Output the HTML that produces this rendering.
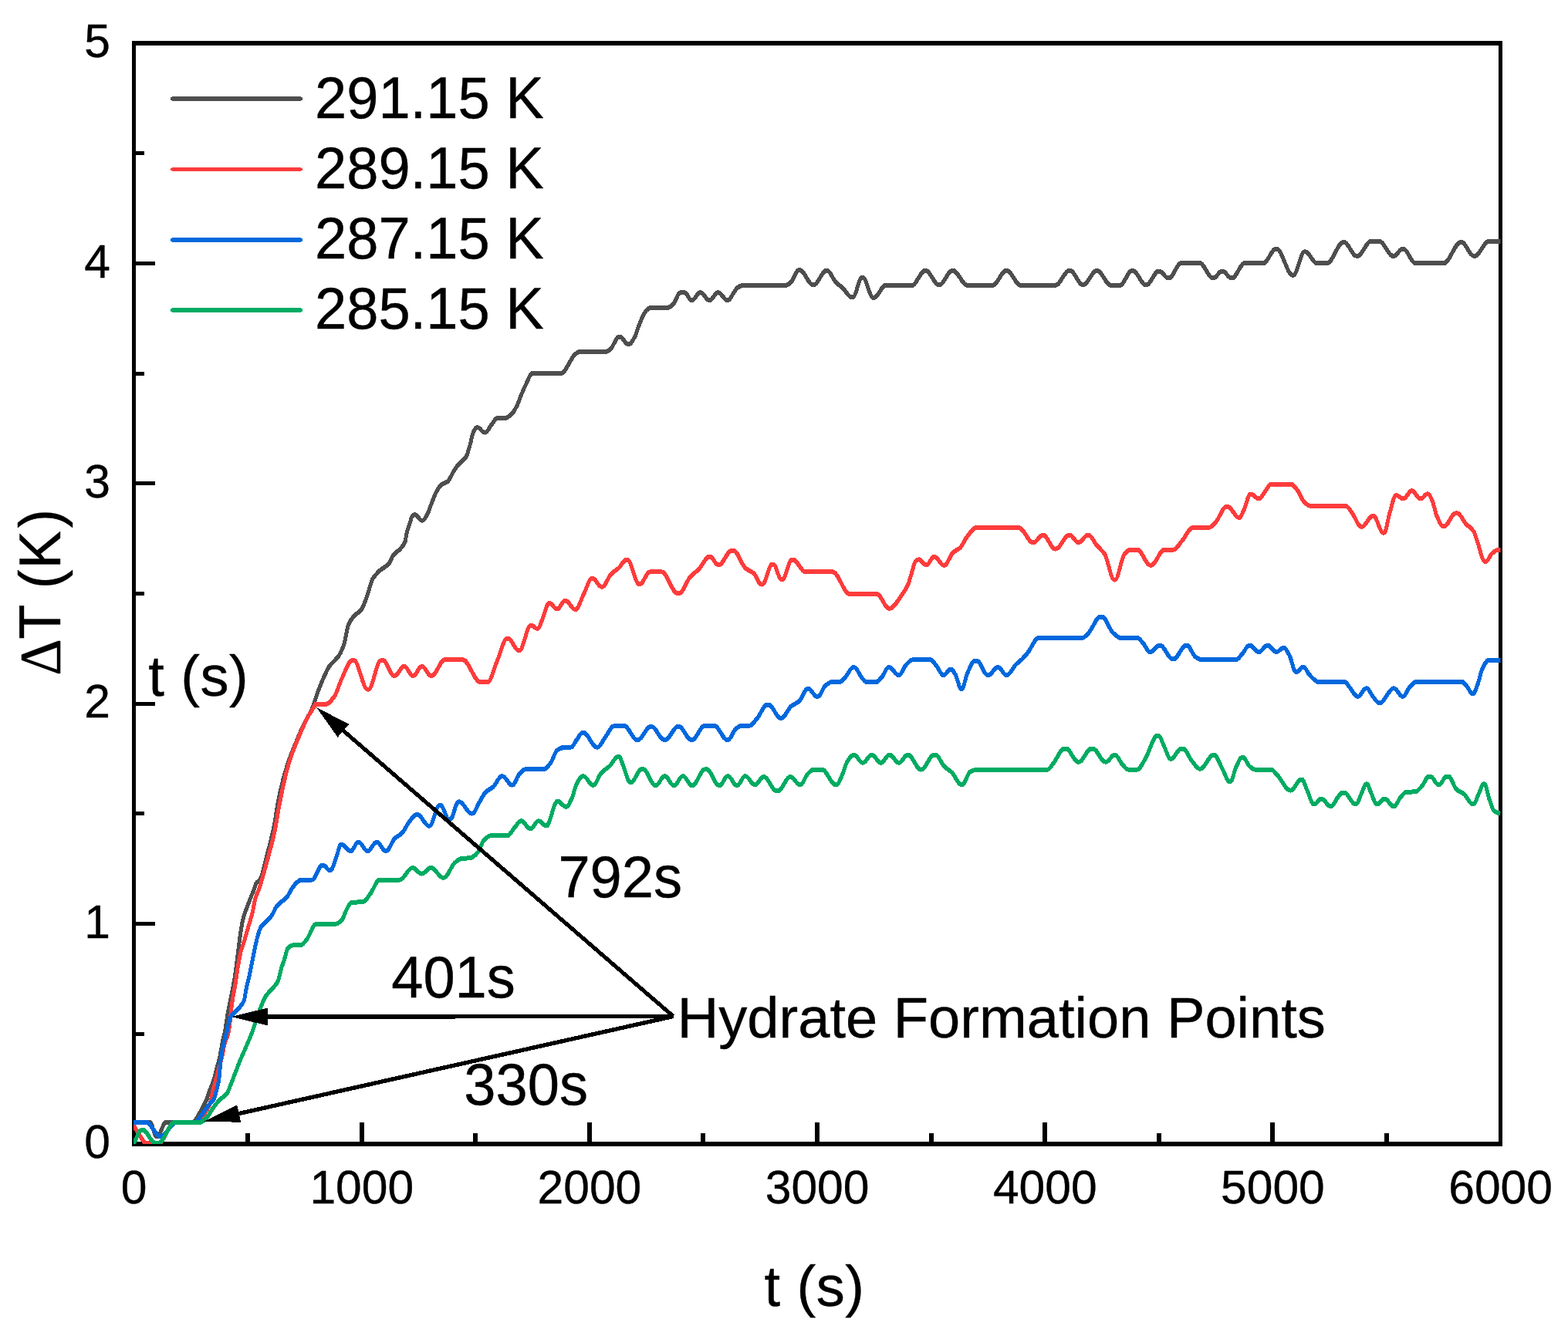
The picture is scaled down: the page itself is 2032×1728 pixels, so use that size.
<!DOCTYPE html>
<html lang="en"><head><meta charset="utf-8"><title>Temperature rise during hydrate formation</title>
<style>html,body{margin:0;padding:0;background:#fff}body{width:2032px;height:1728px;overflow:hidden}svg{display:block}text{font-family:"Liberation Sans", Arial, Helvetica, sans-serif;fill:#000;stroke:#000;stroke-width:0.4px;stroke-linejoin:round}.tk{font-size:60.6px}.lb{font-size:74.1px}.sy{font-family:"Liberation Serif","Times New Roman",serif}.cv{fill:none;stroke-linejoin:round;stroke-linecap:butt}</style></head><body>
<svg width="2032" height="1728" viewBox="0 0 2032 1728">
<rect width="2032" height="1728" fill="#fff"/>
<defs><clipPath id="pc"><rect x="173" y="56" width="1771.5" height="1427"/></clipPath></defs>
<g fill="#000" shape-rendering="crispEdges">
<rect x="171" y="53" width="5" height="1433"/>
<rect x="1942" y="53" width="5" height="1433"/>
<rect x="171" y="53" width="1776" height="6"/>
<rect x="171" y="1480" width="1776" height="6"/>
<rect x="318" y="1469" width="6" height="14"/>
<rect x="466" y="1455" width="6" height="28"/>
<rect x="613" y="1469" width="6" height="14"/>
<rect x="761" y="1455" width="6" height="28"/>
<rect x="908" y="1469" width="6" height="14"/>
<rect x="1056" y="1455" width="6" height="28"/>
<rect x="1204" y="1469" width="6" height="14"/>
<rect x="1351" y="1455" width="6" height="28"/>
<rect x="1499" y="1469" width="6" height="14"/>
<rect x="1646" y="1455" width="6" height="28"/>
<rect x="1794" y="1469" width="6" height="14"/>
<rect x="173" y="1338" width="14" height="5"/>
<rect x="173" y="1195" width="28" height="5"/>
<rect x="173" y="1052" width="14" height="5"/>
<rect x="173" y="910" width="28" height="5"/>
<rect x="173" y="767" width="14" height="5"/>
<rect x="173" y="624" width="28" height="5"/>
<rect x="173" y="482" width="14" height="5"/>
<rect x="173" y="339" width="28" height="5"/>
<rect x="173" y="196" width="14" height="5"/>
</g>
<g clip-path="url(#pc)"><g transform="scale(0.83333 1)" shape-rendering="crispEdges">
<path class="cv" d="M207.6 1454.7C216.2 1454.7 224.8 1454.7 233.4 1454.7C236.6 1454.7 239.8 1472.8 243.0 1472.8C243.6 1472.8 244.1 1472.8 244.7 1472.8C249.2 1472.8 253.7 1454.7 258.2 1454.7C272.2 1454.7 286.1 1454.7 300.0 1454.7C303.3 1454.7 306.6 1448.1 309.8 1443.8C312.0 1441.0 314.1 1437.5 316.2 1434.1C318.0 1431.2 319.8 1428.8 321.6 1425.0C322.8 1422.5 324.0 1418.0 325.2 1415.2C326.7 1411.7 328.2 1409.6 329.8 1406.2C331.0 1403.5 332.2 1400.6 333.4 1397.2C334.6 1393.8 335.8 1388.9 337.0 1385.1C338.5 1380.3 340.0 1377.3 341.5 1371.6C342.4 1368.3 343.3 1362.7 344.2 1358.8C345.1 1354.7 346.0 1350.9 346.9 1347.5C347.6 1344.8 348.4 1342.9 349.1 1340.0C350.9 1332.8 352.7 1320.6 354.5 1312.2C356.5 1303.2 358.5 1296.3 360.4 1287.6C362.2 1279.9 364.0 1272.6 365.8 1263.0C367.0 1256.1 368.3 1246.9 369.6 1238.4C370.7 1231.3 371.8 1222.5 372.9 1216.3C374.5 1206.6 376.2 1197.3 377.9 1191.7C379.8 1185.1 381.8 1181.5 383.8 1176.9C385.3 1173.4 386.7 1170.2 388.2 1167.1C390.2 1162.8 392.1 1159.0 394.1 1154.8C395.6 1151.6 397.1 1146.8 398.5 1144.9C400.5 1142.5 402.4 1142.4 404.3 1140.1C408.1 1135.3 412.0 1118.8 415.8 1106.7C419.4 1095.5 422.9 1084.6 426.4 1069.8C428.4 1061.6 430.3 1048.8 432.3 1040.3C434.2 1031.9 436.1 1024.7 438.0 1018.1C439.8 1011.5 441.7 1005.7 443.6 1000.4C446.2 993.3 448.7 987.0 451.2 981.2C454.3 974.2 457.4 968.2 460.5 962.0C463.5 955.9 466.5 949.6 469.5 944.3C472.6 938.9 475.6 934.6 478.7 929.5C480.8 926.1 482.8 923.2 484.9 919.2C488.4 912.5 491.9 902.1 495.4 894.6C498.1 888.6 500.9 882.9 503.6 877.8C506.4 872.8 509.1 867.5 511.9 864.1C517.0 857.7 522.1 856.4 527.2 849.7C530.0 846.1 532.8 840.8 535.5 833.5C537.5 828.4 539.4 815.2 541.4 810.9C543.8 805.8 546.1 803.0 548.5 800.5C553.2 795.4 558.0 794.8 562.7 789.3C565.4 786.0 568.2 778.8 570.9 772.5C573.7 766.2 576.5 754.9 579.2 750.9C583.1 745.2 587.1 742.5 591.0 739.4C595.7 735.8 600.4 735.0 605.1 730.3C607.2 728.3 609.3 722.2 611.4 720.0C614.9 716.1 618.4 715.2 622.0 711.9C624.6 709.4 627.3 707.8 630.0 702.3C630.8 700.4 631.7 693.4 632.6 690.5C634.1 685.6 635.6 683.2 637.0 679.4C638.2 676.3 639.4 671.1 640.6 669.8C641.8 668.5 643.0 667.3 644.2 667.3C644.7 667.3 645.3 667.3 645.9 667.3C649.1 667.3 652.4 674.5 655.7 674.5C656.2 674.5 656.8 674.5 657.4 674.5C659.7 674.5 662.1 670.3 664.5 666.8C666.6 663.8 668.6 657.9 670.7 653.5C673.4 648.0 676.0 641.1 678.7 637.3C681.3 633.5 684.0 630.2 686.6 628.4C689.9 626.3 693.1 626.3 696.4 624.0C699.6 621.8 702.9 614.1 706.1 610.0C708.5 607.0 710.9 604.2 713.2 601.9C717.1 598.1 720.9 597.3 724.7 592.3C726.8 589.6 728.9 582.6 730.9 576.8C732.7 571.8 734.5 562.5 736.3 559.8C738.0 557.0 739.8 554.3 741.6 554.3C742.2 554.3 742.7 554.3 743.3 554.3C746.6 554.3 749.9 560.5 753.1 560.5C753.7 560.5 754.2 560.5 754.8 560.5C758.1 560.5 761.3 553.5 764.6 550.2C767.6 547.2 770.5 541.8 773.5 541.8C777.6 541.8 781.7 541.8 785.9 541.8C789.1 541.8 792.4 539.3 795.6 536.9C798.3 535.0 800.9 530.8 803.6 526.6C805.9 522.8 808.3 516.5 810.7 511.8C812.7 507.7 814.8 503.4 816.9 500.0C820.6 493.9 824.3 484.1 828.0 484.1C842.8 484.1 857.6 484.1 872.4 484.1C879.7 484.1 886.9 464.4 894.2 459.5C896.6 457.9 898.9 455.8 901.3 455.8C914.9 455.8 928.5 455.8 942.0 455.8C944.4 455.8 946.8 454.3 949.1 452.9C953.6 450.2 958.0 436.6 962.5 436.6C963.0 436.6 963.6 436.6 964.1 436.6C968.3 436.6 972.5 446.2 976.6 446.2C977.2 446.2 977.7 446.2 978.3 446.2C981.3 446.2 984.2 441.0 987.2 436.6C989.6 433.1 991.9 425.3 994.3 420.4C996.7 415.5 999.0 410.4 1001.4 407.1C1002.9 405.0 1004.3 402.9 1005.8 401.9C1008.2 400.3 1010.5 398.7 1012.9 398.7C1021.5 398.7 1030.0 398.7 1038.6 398.7C1041.2 398.7 1043.9 396.5 1046.6 394.6C1050.4 391.8 1054.2 379.4 1058.1 379.4C1060.4 379.4 1062.8 379.4 1065.2 379.4C1068.4 379.4 1071.7 389.1 1075.0 389.1C1075.5 389.1 1076.1 389.1 1076.6 389.1C1080.5 389.1 1084.4 379.4 1088.2 379.4C1088.8 379.4 1089.4 379.4 1089.9 379.4C1094.1 379.4 1098.3 389.1 1102.4 389.1C1103.0 389.1 1103.5 389.1 1104.1 389.1C1108.0 389.1 1111.8 379.4 1115.7 379.4C1116.3 379.4 1116.8 379.4 1117.4 379.4C1121.8 379.4 1126.3 389.1 1130.8 389.1C1131.3 389.1 1131.9 389.1 1132.4 389.1C1135.4 389.1 1138.4 382.3 1141.3 379.1C1143.4 376.8 1145.5 373.4 1147.5 372.4C1150.2 371.1 1152.9 369.9 1155.5 369.9C1177.7 369.9 1199.8 369.9 1222.0 369.9C1224.6 369.9 1227.3 367.7 1229.9 365.8C1234.1 362.8 1238.2 350.3 1242.4 350.3C1242.9 350.3 1243.5 350.3 1244.1 350.3C1250.7 350.3 1257.4 369.1 1264.1 369.1C1264.7 369.1 1265.2 369.1 1265.8 369.1C1272.1 369.1 1278.5 350.9 1284.8 350.9C1285.3 350.9 1285.9 350.9 1286.5 350.9C1291.1 350.9 1295.8 362.9 1300.4 366.6C1303.3 369.0 1306.3 370.1 1309.3 372.3C1314.4 376.0 1319.5 385.3 1324.7 385.3C1325.2 385.3 1325.8 385.3 1326.3 385.3C1331.0 385.3 1335.6 360.0 1340.3 360.0C1340.9 360.0 1341.4 360.0 1342.0 360.0C1347.2 360.0 1352.5 385.8 1357.7 385.8C1358.3 385.8 1358.8 385.8 1359.4 385.8C1365.3 385.8 1371.2 369.8 1377.2 369.8C1390.9 369.8 1404.7 369.8 1418.5 369.8C1425.1 369.8 1431.7 350.9 1438.3 350.9C1438.9 350.9 1439.5 350.9 1440.0 350.9C1446.5 350.9 1453.1 369.1 1459.6 369.1C1460.2 369.1 1460.7 369.1 1461.3 369.1C1467.7 369.1 1474.1 350.9 1480.6 350.9C1481.1 350.9 1481.7 350.9 1482.2 350.9C1489.5 350.9 1496.8 369.8 1504.1 369.8C1517.4 369.8 1530.7 369.8 1544.0 369.8C1550.8 369.8 1557.6 350.9 1564.4 350.9C1565.0 350.9 1565.5 350.9 1566.1 350.9C1573.0 350.9 1579.9 369.8 1586.8 369.8C1605.0 369.8 1623.2 369.8 1641.4 369.8C1648.5 369.8 1655.6 350.9 1662.7 350.9C1663.3 350.9 1663.9 350.9 1664.4 350.9C1670.8 350.9 1677.1 369.1 1683.4 369.1C1684.0 369.1 1684.5 369.1 1685.1 369.1C1691.7 369.1 1698.3 350.9 1705.0 350.9C1705.5 350.9 1706.1 350.9 1706.6 350.9C1713.5 350.9 1720.3 369.8 1727.1 369.8C1732.0 369.8 1736.9 369.8 1741.8 369.8C1747.9 369.8 1754.1 350.9 1760.2 350.9C1760.7 350.9 1761.3 350.9 1761.9 350.9C1768.4 350.9 1774.9 369.1 1781.4 369.1C1782.0 369.1 1782.6 369.1 1783.1 369.1C1789.3 369.1 1795.5 351.5 1801.7 351.5C1802.3 351.5 1802.9 351.5 1803.4 351.5C1807.8 351.5 1812.1 360.4 1816.5 360.4C1817.1 360.4 1817.6 360.4 1818.2 360.4C1824.3 360.4 1830.4 341.2 1836.5 341.2C1846.4 341.2 1856.2 341.2 1866.1 341.2C1872.7 341.2 1879.3 360.4 1885.9 360.4C1886.4 360.4 1887.0 360.4 1887.6 360.4C1891.6 360.4 1895.7 351.5 1899.8 351.5C1900.3 351.5 1900.9 351.5 1901.4 351.5C1905.8 351.5 1910.2 360.4 1914.5 360.4C1915.1 360.4 1915.7 360.4 1916.2 360.4C1922.6 360.4 1929.0 341.2 1935.4 341.2C1945.3 341.2 1955.1 341.2 1965.0 341.2C1971.3 341.2 1977.6 322.7 1983.9 322.7C1984.5 322.7 1985.0 322.7 1985.6 322.7C1993.7 322.7 2001.8 356.7 2009.9 356.7C2010.5 356.7 2011.0 356.7 2011.6 356.7C2017.2 356.7 2022.9 326.4 2028.5 326.4C2029.1 326.4 2029.6 326.4 2030.2 326.4C2036.0 326.4 2041.8 341.2 2047.7 341.2C2053.1 341.2 2058.5 341.2 2063.9 341.2C2072.2 341.2 2080.5 314.1 2088.7 314.1C2089.3 314.1 2089.9 314.1 2090.4 314.1C2096.8 314.1 2103.1 331.9 2109.4 331.9C2110.0 331.9 2110.5 331.9 2111.1 331.9C2118.0 331.9 2124.9 312.9 2131.8 312.9C2136.2 312.9 2140.7 312.9 2145.1 312.9C2152.2 312.9 2159.3 331.9 2166.4 331.9C2167.0 331.9 2167.5 331.9 2168.1 331.9C2172.2 331.9 2176.4 322.7 2180.6 322.7C2181.1 322.7 2181.7 322.7 2182.3 322.7C2188.6 322.7 2194.9 341.2 2201.2 341.2C2216.0 341.2 2230.7 341.2 2245.5 341.2C2254.1 341.2 2262.6 314.1 2271.2 314.1C2271.8 314.1 2272.3 314.1 2272.9 314.1C2279.2 314.1 2285.6 331.9 2291.9 331.9C2292.5 331.9 2293.0 331.9 2293.6 331.9C2300.7 331.9 2307.8 312.9 2314.9 312.9C2321.1 312.9 2327.3 312.9 2333.5 312.9" stroke="#4e4e4e" stroke-width="6"/>
<path class="cv" d="M207.6 1458.5C210.8 1463.0 214.0 1468.3 217.2 1472.0C220.8 1476.1 224.4 1482.3 228.0 1482.3C234.2 1482.3 240.4 1482.3 246.6 1482.3C254.9 1482.3 263.2 1454.7 271.6 1454.7C283.4 1454.7 295.3 1454.7 307.2 1454.7C309.6 1454.7 312.1 1451.0 314.5 1448.4C316.4 1446.4 318.2 1443.3 320.0 1440.8C321.8 1438.3 323.6 1436.8 325.4 1433.3C326.6 1431.0 327.8 1427.0 329.0 1422.8C329.6 1420.7 330.2 1417.4 330.8 1415.2C332.0 1410.8 333.2 1407.7 334.4 1404.0C335.6 1400.3 336.8 1396.5 338.0 1392.7C339.2 1388.9 340.4 1385.2 341.6 1381.4C342.8 1377.6 344.0 1374.4 345.2 1370.1C346.4 1365.8 347.6 1359.0 348.8 1355.0C351.1 1347.4 353.4 1345.9 355.7 1336.9C357.4 1330.1 359.2 1309.8 360.9 1299.9C362.6 1290.1 364.3 1284.2 366.1 1275.3C367.5 1267.7 369.0 1257.8 370.5 1250.7C372.0 1243.7 373.4 1236.9 374.9 1232.3C376.4 1227.7 377.9 1225.2 379.3 1221.2C381.3 1215.9 383.3 1209.6 385.3 1204.0C387.7 1196.9 390.2 1191.5 392.6 1183.1C394.1 1178.0 395.6 1168.8 397.1 1164.6C399.0 1159.1 401.0 1157.0 403.0 1152.3C404.4 1148.8 405.9 1144.2 407.4 1140.0C411.1 1129.4 414.8 1118.4 418.5 1106.7C421.4 1097.3 424.4 1088.9 427.3 1077.2C429.4 1069.0 431.5 1056.8 433.5 1047.6C435.9 1037.1 438.2 1026.9 440.6 1018.1C443.6 1007.1 446.5 996.6 449.5 988.6C453.9 976.6 458.3 968.0 462.8 959.1C468.1 948.3 473.4 937.9 478.7 929.5C482.2 924.0 485.8 920.1 489.3 914.8C489.8 914.1 490.2 912.7 490.6 912.7C496.1 912.7 501.7 912.7 507.2 912.7C511.5 912.7 515.8 907.4 520.2 902.4C524.1 898.0 528.0 885.6 532.0 878.8C537.1 870.1 542.2 856.2 547.3 856.2C548.4 856.2 549.5 856.2 550.7 856.2C557.5 856.2 564.4 893.6 571.3 893.6C571.8 893.6 572.4 893.6 573.0 893.6C579.4 893.6 585.9 856.2 592.4 856.2C593.5 856.2 594.7 856.2 595.8 856.2C601.4 856.2 607.0 875.9 612.6 875.9C613.2 875.9 613.7 875.9 614.3 875.9C618.7 875.9 623.1 864.1 627.5 864.1C628.1 864.1 628.6 864.1 629.2 864.1C633.4 864.1 637.5 875.9 641.7 875.9C642.2 875.9 642.8 875.9 643.4 875.9C647.3 875.9 651.2 864.1 655.1 864.1C655.7 864.1 656.3 864.1 656.8 864.1C661.2 864.1 665.6 875.9 670.0 875.9C670.6 875.9 671.1 875.9 671.7 875.9C678.3 875.9 684.8 855.2 691.4 855.2C700.9 855.2 710.3 855.2 719.8 855.2C728.7 855.2 737.6 883.9 746.5 883.9C750.6 883.9 754.6 883.9 758.7 883.9C763.5 883.9 768.2 866.1 772.9 857.2C778.1 847.3 783.4 827.6 788.6 827.6C789.2 827.6 789.7 827.6 790.3 827.6C795.6 827.6 801.0 843.0 806.3 843.0C806.9 843.0 807.4 843.0 808.0 843.0C813.7 843.0 819.5 810.9 825.2 810.9C825.8 810.9 826.3 810.9 826.9 810.9C829.5 810.9 832.1 814.8 834.7 814.8C835.2 814.8 835.8 814.8 836.4 814.8C838.8 814.8 841.3 806.7 843.8 802.0C847.0 796.0 850.3 782.0 853.6 782.0C854.1 782.0 854.7 782.0 855.2 782.0C858.6 782.0 862.0 789.3 865.4 789.3C865.9 789.3 866.5 789.3 867.1 789.3C870.8 789.3 874.6 778.8 878.4 778.8C878.9 778.8 879.5 778.8 880.1 778.8C884.6 778.8 889.2 789.8 893.7 789.8C894.3 789.8 894.8 789.8 895.4 789.8C899.5 789.8 903.5 777.0 907.6 770.6C911.8 763.7 916.1 749.9 920.4 749.9C921.0 749.9 921.5 749.9 922.1 749.9C926.4 749.9 930.7 760.7 935.1 760.7C935.6 760.7 936.2 760.7 936.7 760.7C941.2 760.7 945.7 748.2 950.2 744.3C954.1 741.0 958.0 739.5 962.0 736.5C966.0 733.4 970.1 725.6 974.1 725.6C974.7 725.6 975.3 725.6 975.8 725.6C981.8 725.6 987.8 757.1 993.7 757.1C994.3 757.1 994.9 757.1 995.4 757.1C1000.4 757.1 1005.4 741.4 1010.4 741.4C1016.7 741.4 1023.0 741.4 1029.3 741.4C1037.3 741.4 1045.2 768.9 1053.1 768.9C1054.3 768.9 1055.4 768.9 1056.5 768.9C1062.0 768.9 1067.5 753.5 1073.0 748.3C1077.7 743.8 1082.5 741.5 1087.2 737.4C1092.4 732.9 1097.6 721.7 1102.9 721.7C1103.4 721.7 1104.0 721.7 1104.6 721.7C1108.6 721.7 1112.6 732.1 1116.6 732.1C1117.1 732.1 1117.7 732.1 1118.3 732.1C1124.7 732.1 1131.1 713.8 1137.5 713.8C1138.6 713.8 1139.7 713.8 1140.8 713.8C1147.0 713.8 1153.1 732.0 1159.2 736.5C1163.6 739.6 1167.9 740.1 1172.2 743.3C1176.1 746.2 1180.0 757.5 1183.9 757.5C1184.5 757.5 1185.0 757.5 1185.6 757.5C1190.7 757.5 1195.8 731.5 1200.9 731.5C1201.5 731.5 1202.0 731.5 1202.6 731.5C1206.8 731.5 1210.9 751.2 1215.1 751.2C1215.6 751.2 1216.2 751.2 1216.8 751.2C1221.7 751.2 1226.7 725.6 1231.6 725.6C1232.2 725.6 1232.7 725.6 1233.3 725.6C1239.7 725.6 1246.1 741.4 1252.5 741.4C1266.7 741.4 1280.9 741.4 1295.1 741.4C1303.7 741.4 1312.4 769.9 1321.0 769.9C1335.2 769.9 1349.4 769.9 1363.6 769.9C1369.8 769.9 1376.1 788.6 1382.3 788.6C1382.9 788.6 1383.4 788.6 1384.0 788.6C1389.8 788.6 1395.6 779.1 1401.4 772.6C1405.0 768.6 1408.5 764.5 1412.1 757.8C1414.0 754.1 1416.0 747.1 1418.0 742.0C1420.0 737.0 1421.9 728.7 1423.9 727.3C1425.5 726.2 1427.0 725.3 1428.6 725.3C1432.3 725.3 1435.9 732.2 1439.6 732.2C1440.1 732.2 1440.7 732.2 1441.3 732.2C1444.9 732.2 1448.5 722.0 1452.1 722.0C1452.7 722.0 1453.2 722.0 1453.8 722.0C1458.3 722.0 1462.7 732.6 1467.2 732.6C1467.8 732.6 1468.3 732.6 1468.9 732.6C1473.2 732.6 1477.5 719.9 1481.8 716.5C1485.7 713.3 1489.6 712.8 1493.6 709.6C1496.7 707.0 1499.9 700.1 1503.0 696.8C1508.1 691.4 1513.3 684.0 1518.4 684.0C1540.4 684.0 1562.5 684.0 1584.5 684.0C1591.7 684.0 1598.9 703.1 1606.1 703.1C1606.7 703.1 1607.2 703.1 1607.8 703.1C1612.2 703.1 1616.6 693.8 1621.0 693.8C1621.6 693.8 1622.1 693.8 1622.7 693.8C1628.6 693.8 1634.5 711.5 1640.4 711.5C1640.9 711.5 1641.5 711.5 1642.1 711.5C1648.8 711.5 1655.6 693.8 1662.3 693.8C1662.9 693.8 1663.5 693.8 1664.0 693.8C1668.2 693.8 1672.3 703.1 1676.5 703.1C1677.1 703.1 1677.6 703.1 1678.2 703.1C1682.5 703.1 1686.8 693.8 1691.2 693.8C1691.7 693.8 1692.3 693.8 1692.8 693.8C1697.3 693.8 1701.7 703.3 1706.2 707.6C1710.1 711.4 1714.0 713.4 1718.0 718.4C1722.8 724.7 1727.7 751.5 1732.5 751.5C1733.1 751.5 1733.6 751.5 1734.2 751.5C1739.0 751.5 1743.9 723.0 1748.7 718.4C1751.8 715.5 1755.0 712.5 1758.1 712.5C1761.7 712.5 1765.2 712.5 1768.8 712.5C1775.4 712.5 1782.1 732.6 1788.7 732.6C1789.3 732.6 1789.8 732.6 1790.4 732.6C1797.0 732.6 1803.5 713.2 1810.1 712.9C1815.2 712.7 1820.3 712.8 1825.5 712.5C1829.8 712.3 1834.1 704.8 1838.5 700.7C1844.0 695.4 1849.5 684.0 1855.0 684.0C1863.4 683.9 1871.7 683.9 1880.1 683.9C1883.6 683.8 1887.2 679.8 1890.7 676.8C1896.1 672.2 1901.4 657.1 1906.7 657.1C1907.9 657.1 1909.0 657.1 1910.1 657.1C1915.4 657.1 1920.7 670.9 1926.0 670.9C1926.6 670.9 1927.1 670.9 1927.7 670.9C1929.9 670.9 1932.2 664.8 1934.4 661.0C1937.7 655.5 1940.9 640.9 1944.2 640.9C1944.8 640.9 1945.3 640.9 1945.9 640.9C1949.7 640.9 1953.4 646.3 1957.2 646.3C1957.8 646.3 1958.3 646.3 1958.9 646.3C1961.3 646.3 1963.8 641.0 1966.3 638.4C1969.8 634.7 1973.4 627.6 1976.9 627.6C1987.2 627.6 1997.4 627.6 2007.6 627.6C2011.2 627.6 2014.7 632.6 2018.3 636.4C2021.4 639.8 2024.6 647.6 2027.7 650.2C2030.9 652.8 2034.0 655.7 2037.2 655.7C2055.7 655.7 2074.2 655.7 2092.7 655.7C2096.2 655.7 2099.8 662.1 2103.3 665.9C2107.8 670.8 2112.2 682.7 2116.6 682.7C2117.2 682.7 2117.8 682.7 2118.3 682.7C2123.7 682.7 2129.0 668.9 2134.4 668.9C2134.9 668.9 2135.5 668.9 2136.0 668.9C2141.0 668.9 2145.9 690.6 2150.9 690.6C2151.5 690.6 2152.0 690.6 2152.6 690.6C2155.4 690.6 2158.3 672.6 2161.2 665.0C2164.3 656.6 2167.4 642.3 2170.5 642.3C2171.1 642.3 2171.6 642.3 2172.2 642.3C2175.3 642.3 2178.5 646.3 2181.6 646.3C2182.2 646.3 2182.7 646.3 2183.3 646.3C2187.1 646.3 2190.8 636.4 2194.6 636.4C2195.2 636.4 2195.7 636.4 2196.3 636.4C2200.3 636.4 2204.3 646.3 2208.3 646.3C2208.9 646.3 2209.4 646.3 2210.0 646.3C2213.1 646.3 2216.3 640.4 2219.4 640.4C2220.0 640.4 2220.5 640.4 2221.1 640.4C2223.2 640.4 2225.2 645.3 2227.3 649.2C2229.7 653.6 2232.0 664.5 2234.4 668.9C2237.7 675.0 2240.9 682.3 2244.2 682.3C2244.8 682.3 2245.3 682.3 2245.9 682.3C2251.7 682.3 2257.6 665.4 2263.4 665.4C2264.6 665.4 2265.7 665.4 2266.8 665.4C2271.0 665.4 2275.1 674.8 2279.3 678.7C2283.6 682.8 2288.0 683.8 2292.3 689.6C2294.3 692.2 2296.2 699.7 2298.2 704.3C2301.8 712.9 2305.5 728.0 2309.2 728.0C2309.7 728.0 2310.3 728.0 2310.8 728.0C2314.1 728.0 2317.4 719.3 2320.6 717.1C2323.4 715.2 2326.1 713.2 2328.9 713.0C2330.5 712.9 2332.0 712.9 2333.6 712.8" stroke="#fd3c3c" stroke-width="6"/>
<path class="cv" d="M207.6 1454.7C214.2 1454.7 220.8 1454.7 227.4 1454.7C234.6 1454.7 241.9 1473.0 249.1 1473.0C249.7 1473.0 250.2 1473.0 250.8 1473.0C258.5 1473.0 266.2 1454.7 274.0 1454.7C283.8 1454.7 293.7 1454.7 303.6 1454.7C306.0 1454.7 308.5 1450.8 310.9 1448.4C313.3 1446.0 315.7 1442.8 318.1 1440.1C320.6 1437.3 323.0 1434.3 325.4 1431.8C327.8 1429.3 330.2 1428.6 332.6 1425.0C333.8 1423.2 335.0 1418.9 336.2 1415.2C337.6 1411.0 339.0 1407.5 340.3 1400.2C340.9 1397.0 341.5 1390.1 342.1 1385.1C342.7 1380.1 343.3 1373.6 343.9 1370.1C345.1 1363.1 346.3 1359.5 347.5 1355.0C349.0 1349.4 350.5 1345.0 352.0 1340.0C354.2 1332.8 356.5 1321.6 358.7 1318.4C360.6 1315.6 362.6 1314.7 364.6 1312.9C367.5 1310.1 370.5 1308.0 373.4 1304.9C375.4 1302.8 377.4 1301.5 379.3 1297.5C380.6 1295.0 381.8 1286.3 383.0 1281.5C384.8 1274.7 386.5 1269.7 388.2 1263.0C389.7 1257.3 391.2 1250.7 392.6 1244.6C394.1 1238.4 395.6 1231.6 397.1 1226.1C398.5 1220.7 400.0 1215.3 401.5 1211.4C403.0 1207.4 404.4 1203.4 405.9 1201.5C408.4 1198.4 410.8 1197.5 413.3 1195.4C416.7 1192.3 420.2 1189.8 423.6 1185.5C425.6 1183.1 427.6 1177.9 429.5 1175.7C432.0 1172.9 434.5 1171.4 436.9 1169.5C439.9 1167.3 442.8 1166.1 445.8 1163.4C448.7 1160.6 451.7 1154.6 454.6 1151.1C456.6 1148.8 458.6 1146.4 460.5 1144.9C463.0 1143.1 465.5 1140.8 467.9 1140.7C473.8 1140.6 479.7 1140.7 485.6 1140.5C490.7 1140.3 495.8 1121.5 500.9 1121.5C501.5 1121.5 502.0 1121.5 502.6 1121.5C505.9 1121.5 509.1 1128.1 512.4 1128.1C513.0 1128.1 513.5 1128.1 514.1 1128.1C517.1 1128.1 520.0 1117.3 523.0 1111.1C525.4 1106.2 527.7 1094.9 530.1 1094.9C530.7 1094.9 531.2 1094.9 531.8 1094.9C536.0 1094.9 540.1 1103.0 544.3 1103.0C544.9 1103.0 545.4 1103.0 546.0 1103.0C549.6 1103.0 553.1 1091.9 556.7 1091.9C557.3 1091.9 557.8 1091.9 558.4 1091.9C562.5 1091.9 566.7 1103.0 570.9 1103.0C571.4 1103.0 572.0 1103.0 572.6 1103.0C576.7 1103.0 580.9 1091.9 585.0 1091.9C585.6 1091.9 586.2 1091.9 586.7 1091.9C590.9 1091.9 595.1 1103.0 599.2 1103.0C599.8 1103.0 600.3 1103.0 600.9 1103.0C605.0 1103.0 609.2 1091.1 613.3 1087.5C617.5 1084.0 621.6 1083.0 625.7 1079.4C629.3 1076.3 632.8 1069.0 636.4 1065.4C640.2 1061.4 644.1 1055.8 647.9 1055.8C648.5 1055.8 649.1 1055.8 649.6 1055.8C655.3 1055.8 660.9 1070.5 666.5 1070.5C667.1 1070.5 667.7 1070.5 668.2 1070.5C673.3 1070.5 678.3 1043.9 683.4 1043.9C683.9 1043.9 684.5 1043.9 685.1 1043.9C689.5 1043.9 694.0 1062.4 698.4 1062.4C699.0 1062.4 699.6 1062.4 700.1 1062.4C704.4 1062.4 708.6 1039.4 712.9 1039.4C713.4 1039.4 714.0 1039.4 714.6 1039.4C720.7 1039.4 726.8 1054.5 733.0 1054.5C733.5 1054.5 734.1 1054.5 734.6 1054.5C738.3 1054.5 741.9 1044.7 745.6 1039.8C748.8 1035.5 751.9 1029.6 755.1 1027.0C759.0 1023.7 762.9 1023.0 766.9 1020.1C771.3 1016.8 775.8 1006.3 780.2 1006.3C780.8 1006.3 781.3 1006.3 781.9 1006.3C786.4 1006.3 791.0 1017.5 795.6 1017.5C796.1 1017.5 796.7 1017.5 797.2 1017.5C800.5 1017.5 803.8 1007.4 807.0 1004.3C810.2 1001.4 813.3 997.4 816.5 997.4C826.3 997.4 836.2 997.4 846.0 997.4C849.5 997.4 853.1 992.5 856.6 988.6C859.8 985.1 862.9 974.8 866.1 972.8C869.6 970.7 873.2 969.1 876.7 968.9C880.6 968.7 884.6 968.8 888.5 968.5C891.3 968.3 894.0 962.0 896.8 959.1C899.8 955.8 902.8 949.8 905.9 949.8C906.4 949.8 907.0 949.8 907.5 949.8C914.3 949.8 921.1 968.5 927.8 968.5C928.4 968.5 929.0 968.5 929.5 968.5C933.6 968.5 937.6 959.5 941.7 955.1C946.0 950.4 950.3 941.3 954.7 941.3C960.2 941.3 965.7 941.3 971.2 941.3C977.6 941.3 984.0 959.1 990.4 959.1C991.0 959.1 991.6 959.1 992.1 959.1C998.6 959.1 1005.2 941.9 1011.7 941.9C1012.3 941.9 1012.8 941.9 1013.4 941.9C1019.9 941.9 1026.4 959.1 1033.0 959.1C1033.5 959.1 1034.1 959.1 1034.6 959.1C1041.2 959.1 1047.7 941.9 1054.2 941.9C1054.8 941.9 1055.3 941.9 1055.9 941.9C1062.2 941.9 1068.5 959.1 1074.8 959.1C1075.3 959.1 1075.9 959.1 1076.4 959.1C1082.7 959.1 1089.0 941.3 1095.2 941.3C1100.7 941.3 1106.2 941.3 1111.7 941.3C1118.0 941.3 1124.3 959.1 1130.5 959.1C1131.1 959.1 1131.6 959.1 1132.2 959.1C1136.4 959.1 1140.6 946.6 1144.8 944.3C1148.0 942.5 1151.1 940.7 1154.3 940.7C1158.2 940.7 1162.1 940.7 1166.1 940.7C1170.0 940.7 1174.0 934.4 1178.0 930.6C1182.8 925.8 1187.6 913.8 1192.4 913.8C1193.5 913.8 1194.6 913.8 1195.7 913.8C1201.7 913.8 1207.7 930.9 1213.8 930.9C1214.3 930.9 1214.9 930.9 1215.4 930.9C1220.3 930.9 1225.1 919.2 1230.0 915.8C1234.3 912.8 1238.6 912.1 1242.9 908.9C1247.2 905.7 1251.5 893.1 1255.8 893.1C1256.4 893.1 1256.9 893.1 1257.5 893.1C1261.8 893.1 1266.1 903.0 1270.5 903.0C1271.0 903.0 1271.6 903.0 1272.1 903.0C1275.8 903.0 1279.4 891.9 1283.1 889.2C1286.3 886.9 1289.4 884.5 1292.6 884.3C1297.3 883.9 1302.0 884.1 1306.7 883.7C1309.5 883.5 1312.2 879.8 1315.0 877.4C1318.9 874.0 1322.8 865.0 1326.7 865.0C1327.2 865.0 1327.8 865.0 1328.4 865.0C1332.6 865.0 1336.8 875.8 1341.0 879.4C1343.3 881.4 1345.7 884.3 1348.1 884.3C1352.8 884.3 1357.5 884.3 1362.2 884.3C1365.4 884.3 1368.5 880.3 1371.7 877.4C1374.9 874.4 1378.2 865.2 1381.5 865.2C1382.0 865.2 1382.6 865.2 1383.2 865.2C1387.7 865.2 1392.3 875.0 1396.8 875.0C1397.4 875.0 1397.9 875.0 1398.5 875.0C1401.8 875.0 1405.0 865.6 1408.3 862.6C1411.8 859.5 1415.4 855.4 1418.9 855.4C1428.4 855.4 1437.8 855.4 1447.3 855.4C1450.4 855.4 1453.6 860.5 1456.7 863.6C1460.0 866.9 1463.3 875.0 1466.5 875.0C1467.1 875.0 1467.6 875.0 1468.2 875.0C1471.3 875.0 1474.5 867.6 1477.6 867.6C1478.2 867.6 1478.7 867.6 1479.3 867.6C1481.6 867.6 1483.9 872.0 1486.3 875.4C1489.0 879.4 1491.7 893.1 1494.4 893.1C1494.9 893.1 1495.5 893.1 1496.1 893.1C1498.7 893.1 1501.3 878.3 1504.0 873.5C1508.0 866.2 1512.0 856.7 1516.0 856.7C1517.1 856.7 1518.2 856.7 1519.3 856.7C1524.8 856.7 1530.3 875.0 1535.7 875.0C1536.3 875.0 1536.8 875.0 1537.4 875.0C1542.0 875.0 1546.5 865.2 1551.1 865.2C1551.6 865.2 1552.2 865.2 1552.8 865.2C1556.7 865.2 1560.6 875.0 1564.5 875.0C1565.1 875.0 1565.7 875.0 1566.2 875.0C1570.7 875.0 1575.1 865.4 1579.6 861.7C1582.7 859.0 1585.9 857.3 1589.0 854.8C1592.2 852.2 1595.3 849.1 1598.5 845.9C1604.0 840.2 1609.5 826.9 1615.1 826.9C1637.8 826.9 1660.4 826.9 1683.1 826.9C1686.4 826.9 1689.7 823.1 1693.0 820.4C1698.9 815.5 1704.8 799.7 1710.7 799.7C1711.8 799.7 1713.0 799.7 1714.1 799.7C1719.7 799.7 1725.3 816.3 1730.8 820.4C1734.9 823.3 1739.0 826.9 1743.1 826.9C1751.6 826.9 1760.1 826.9 1768.6 826.9C1771.8 826.9 1774.9 831.3 1778.1 834.1C1781.3 837.1 1784.6 845.0 1787.9 845.0C1788.4 845.0 1789.0 845.0 1789.5 845.0C1793.9 845.0 1798.3 836.7 1802.8 836.7C1803.3 836.7 1803.9 836.7 1804.4 836.7C1810.7 836.7 1817.0 854.4 1823.3 854.4C1823.9 854.4 1824.4 854.4 1825.0 854.4C1831.5 854.4 1838.0 836.7 1844.6 836.7C1845.1 836.7 1845.7 836.7 1846.2 836.7C1850.3 836.7 1854.3 848.2 1858.4 850.9C1861.5 852.9 1864.7 855.2 1867.8 855.2C1886.0 855.2 1904.1 855.2 1922.2 855.2C1925.3 855.2 1928.5 850.7 1931.6 847.9C1935.3 844.7 1938.9 836.7 1942.6 836.7C1943.2 836.7 1943.7 836.7 1944.3 836.7C1948.4 836.7 1952.6 845.0 1956.8 845.0C1957.3 845.0 1957.9 845.0 1958.4 845.0C1962.5 845.0 1966.5 836.7 1970.5 836.7C1971.0 836.7 1971.6 836.7 1972.1 836.7C1976.1 836.7 1980.0 845.0 1983.9 845.0C1984.5 845.0 1985.1 845.0 1985.6 845.0C1988.8 845.0 1992.1 840.0 1995.3 840.0C1995.8 840.0 1996.4 840.0 1997.0 840.0C1999.6 840.0 2002.2 845.1 2004.9 848.9C2008.3 853.9 2011.7 871.0 2015.1 871.0C2015.6 871.0 2016.2 871.0 2016.8 871.0C2019.7 871.0 2022.7 864.8 2025.7 864.8C2026.3 864.8 2026.8 864.8 2027.4 864.8C2030.4 864.8 2033.3 872.2 2036.3 874.7C2041.0 878.7 2045.7 884.0 2050.5 884.0C2064.0 884.0 2077.6 884.0 2091.2 884.0C2094.2 884.0 2097.1 889.6 2100.1 892.4C2103.6 895.8 2107.2 902.7 2110.7 902.7C2111.3 902.7 2111.9 902.7 2112.4 902.7C2116.3 902.7 2120.2 892.4 2124.0 892.4C2124.6 892.4 2125.2 892.4 2125.7 892.4C2129.0 892.4 2132.2 900.3 2135.5 903.5C2138.4 906.3 2141.2 910.9 2144.1 910.9C2145.2 910.9 2146.3 910.9 2147.5 910.9C2150.6 910.9 2153.7 904.3 2156.8 901.3C2160.0 898.1 2163.3 892.4 2166.6 892.4C2167.1 892.4 2167.7 892.4 2168.2 892.4C2172.4 892.4 2176.6 902.7 2180.7 902.7C2181.3 902.7 2181.8 902.7 2182.4 902.7C2185.4 902.7 2188.3 894.4 2191.3 891.7C2194.9 888.4 2198.4 884.0 2201.9 884.0C2225.9 884.0 2249.8 884.0 2273.7 884.0C2276.4 884.0 2279.0 887.7 2281.7 890.2C2284.2 892.6 2286.8 899.1 2289.3 899.1C2289.9 899.1 2290.5 899.1 2291.0 899.1C2293.5 899.1 2296.0 891.3 2298.5 885.8C2300.6 881.2 2302.6 871.6 2304.7 868.1C2308.2 861.9 2311.8 855.5 2315.3 855.5C2321.5 855.5 2327.7 855.5 2333.9 855.5" stroke="#0068dd" stroke-width="6"/>
<path class="cv" d="M207.6 1483.0C211.9 1476.9 216.2 1464.7 220.6 1464.7C221.1 1464.7 221.7 1464.7 222.2 1464.7C228.6 1464.7 234.9 1481.7 241.2 1481.7C243.0 1481.7 244.8 1481.7 246.6 1481.7C254.9 1481.7 263.2 1454.7 271.6 1454.7C285.0 1454.7 298.4 1454.7 311.9 1454.7C315.2 1454.7 318.5 1451.2 321.8 1448.4C325.4 1445.4 329.0 1438.8 332.6 1434.8C335.4 1431.8 338.1 1428.9 340.8 1426.5C345.0 1422.8 349.2 1421.7 353.4 1416.8C355.5 1414.3 357.6 1408.4 359.8 1404.0C362.4 1398.4 365.1 1392.4 367.8 1386.7C369.9 1382.2 372.0 1377.3 374.2 1373.1C376.3 1368.8 378.4 1365.2 380.5 1361.1C382.6 1357.1 384.7 1353.1 386.8 1349.0C388.2 1346.1 389.7 1343.3 391.2 1340.0C394.1 1333.6 397.1 1325.3 400.0 1318.4C403.0 1311.5 405.9 1304.2 408.9 1298.7C410.4 1295.9 411.8 1293.2 413.3 1291.3C416.3 1287.6 419.2 1285.7 422.2 1282.7C425.6 1279.2 429.1 1277.6 432.5 1271.6C434.0 1269.1 435.4 1261.1 436.9 1256.9C438.9 1251.2 440.9 1247.3 442.8 1242.1C444.3 1238.2 445.8 1231.3 447.3 1229.8C449.7 1227.3 452.2 1225.6 454.6 1225.5C459.1 1225.2 463.5 1225.4 467.9 1225.1C471.4 1224.9 474.8 1220.3 478.3 1216.3C480.2 1214.0 482.2 1209.4 484.2 1206.4C486.1 1203.5 488.1 1198.5 490.1 1198.4C500.4 1197.9 510.7 1198.3 521.1 1197.8C524.5 1197.7 528.0 1195.6 531.4 1192.9C533.9 1191.0 536.3 1183.0 538.8 1179.4C541.3 1175.7 543.7 1170.5 546.2 1170.1C552.6 1169.2 559.0 1169.8 565.4 1168.9C568.9 1168.4 572.5 1162.3 576.0 1158.5C580.8 1153.2 585.6 1140.5 590.4 1140.5C601.0 1140.5 611.6 1140.5 622.2 1140.5C628.4 1140.5 634.6 1125.1 640.9 1125.1C641.4 1125.1 642.0 1125.1 642.5 1125.1C646.7 1125.1 650.9 1132.5 655.0 1132.5C655.6 1132.5 656.1 1132.5 656.7 1132.5C660.9 1132.5 665.0 1125.1 669.2 1125.1C669.8 1125.1 670.3 1125.1 670.9 1125.1C676.8 1125.1 682.8 1137.7 688.7 1137.7C689.2 1137.7 689.8 1137.7 690.4 1137.7C696.0 1137.7 701.6 1122.6 707.2 1118.5C710.6 1116.1 713.9 1113.3 717.3 1113.0C722.0 1112.5 726.7 1112.7 731.4 1112.2C735.4 1111.8 739.3 1108.4 743.2 1104.7C746.4 1101.8 749.5 1091.4 752.7 1089.0C756.6 1085.9 760.6 1083.1 764.5 1083.1C772.8 1083.1 781.0 1083.1 789.3 1083.1C792.9 1083.1 796.4 1076.5 799.9 1073.2C803.2 1070.2 806.5 1064.4 809.7 1064.4C810.3 1064.4 810.8 1064.4 811.4 1064.4C815.6 1064.4 819.7 1074.2 823.9 1074.2C824.5 1074.2 825.0 1074.2 825.6 1074.2C829.4 1074.2 833.1 1064.4 836.9 1064.4C837.5 1064.4 838.0 1064.4 838.6 1064.4C841.9 1064.4 845.3 1070.3 848.7 1070.3C849.3 1070.3 849.8 1070.3 850.4 1070.3C852.5 1070.3 854.5 1064.0 856.6 1059.4C858.2 1056.0 859.8 1048.6 861.4 1045.7C863.0 1042.5 864.7 1038.8 866.4 1038.8C867.0 1038.8 867.5 1038.8 868.1 1038.8C871.9 1038.8 875.6 1045.7 879.4 1045.7C880.0 1045.7 880.5 1045.7 881.1 1045.7C884.0 1045.7 886.8 1039.0 889.7 1033.9C892.1 1029.6 894.4 1019.7 896.8 1016.1C899.9 1011.4 903.0 1006.3 906.1 1006.3C906.7 1006.3 907.2 1006.3 907.8 1006.3C912.3 1006.3 916.9 1017.7 921.5 1017.7C922.0 1017.7 922.6 1017.7 923.1 1017.7C927.0 1017.7 930.8 1005.9 934.6 1002.4C939.3 998.0 944.0 996.4 948.8 992.5C952.8 989.2 956.9 980.7 960.9 980.7C961.5 980.7 962.0 980.7 962.6 980.7C965.1 980.7 967.5 989.7 970.0 994.5C973.3 1000.8 976.5 1014.2 979.8 1014.2C980.4 1014.2 980.9 1014.2 981.5 1014.2C986.8 1014.2 992.1 997.4 997.4 997.4C998.5 997.4 999.6 997.4 1000.8 997.4C1006.8 997.4 1012.8 1018.1 1018.8 1018.1C1019.3 1018.1 1019.9 1018.1 1020.5 1018.1C1024.6 1018.1 1028.8 1006.3 1033.0 1006.3C1033.5 1006.3 1034.1 1006.3 1034.6 1006.3C1038.8 1006.3 1043.0 1018.1 1047.1 1018.1C1047.7 1018.1 1048.2 1018.1 1048.8 1018.1C1053.0 1018.1 1057.1 1006.3 1061.3 1006.3C1061.9 1006.3 1062.4 1006.3 1063.0 1006.3C1067.1 1006.3 1071.3 1018.1 1075.5 1018.1C1076.0 1018.1 1076.6 1018.1 1077.2 1018.1C1083.4 1018.1 1089.6 997.4 1095.9 997.4C1097.0 997.4 1098.1 997.4 1099.3 997.4C1105.5 997.4 1111.7 1018.1 1118.0 1018.1C1118.6 1018.1 1119.1 1018.1 1119.7 1018.1C1123.4 1018.1 1127.2 1006.3 1131.0 1006.3C1131.5 1006.3 1132.1 1006.3 1132.7 1006.3C1136.8 1006.3 1141.0 1018.1 1145.2 1018.1C1145.7 1018.1 1146.3 1018.1 1146.8 1018.1C1150.6 1018.1 1154.4 1006.3 1158.2 1006.3C1158.7 1006.3 1159.3 1006.3 1159.8 1006.3C1164.3 1006.3 1168.7 1017.2 1173.1 1017.2C1173.7 1017.2 1174.2 1017.2 1174.8 1017.2C1178.7 1017.2 1182.7 1007.3 1186.6 1007.3C1187.2 1007.3 1187.7 1007.3 1188.3 1007.3C1194.5 1007.3 1200.8 1025.0 1207.0 1025.0C1208.1 1025.0 1209.3 1025.0 1210.4 1025.0C1216.4 1025.0 1222.4 1007.3 1228.4 1007.3C1229.0 1007.3 1229.5 1007.3 1230.1 1007.3C1234.5 1007.3 1238.9 1017.2 1243.3 1017.2C1243.8 1017.2 1244.4 1017.2 1245.0 1017.2C1248.6 1017.2 1252.3 1006.4 1255.9 1003.4C1259.1 1000.8 1262.2 997.5 1265.4 997.5C1269.7 997.5 1274.0 997.5 1278.4 997.5C1285.3 997.5 1292.3 1017.2 1299.3 1017.2C1299.8 1017.2 1300.4 1017.2 1301.0 1017.2C1304.1 1017.2 1307.2 1009.0 1310.3 1003.4C1312.6 999.2 1315.0 990.7 1317.4 987.6C1320.6 983.3 1323.9 978.8 1327.1 978.8C1327.7 978.8 1328.3 978.8 1328.8 978.8C1332.8 978.8 1336.8 988.6 1340.8 988.6C1341.4 988.6 1342.0 988.6 1342.5 988.6C1346.6 988.6 1350.7 978.8 1354.8 978.8C1355.3 978.8 1355.9 978.8 1356.5 978.8C1360.6 978.8 1364.8 988.6 1369.0 988.6C1369.5 988.6 1370.1 988.6 1370.6 988.6C1374.6 988.6 1378.6 978.8 1382.7 978.8C1383.2 978.8 1383.8 978.8 1384.3 978.8C1388.5 978.8 1392.7 988.6 1396.8 988.6C1397.4 988.6 1397.9 988.6 1398.5 988.6C1402.7 988.6 1406.8 978.8 1411.0 978.8C1411.6 978.8 1412.1 978.8 1412.7 978.8C1419.0 978.8 1425.3 997.5 1431.6 997.5C1432.1 997.5 1432.7 997.5 1433.2 997.5C1439.5 997.5 1445.7 978.8 1452.0 978.8C1453.1 978.8 1454.2 978.8 1455.3 978.8C1459.7 978.8 1464.1 989.9 1468.5 993.5C1472.5 996.8 1476.4 998.2 1480.3 1001.4C1485.2 1005.4 1490.0 1017.2 1494.9 1017.2C1495.4 1017.2 1496.0 1017.2 1496.5 1017.2C1500.6 1017.2 1504.6 1002.1 1508.7 1000.4C1512.6 998.8 1516.6 997.5 1520.5 997.5C1556.8 997.5 1593.0 997.5 1629.3 997.5C1632.4 997.5 1635.6 991.9 1638.7 988.7C1644.1 983.2 1649.4 970.6 1654.7 970.6C1655.9 970.6 1657.0 970.6 1658.1 970.6C1664.2 970.6 1670.3 987.7 1676.4 987.7C1676.9 987.7 1677.5 987.7 1678.1 987.7C1684.2 987.7 1690.4 970.6 1696.6 970.6C1697.7 970.6 1698.8 970.6 1699.9 970.6C1706.2 970.6 1712.4 987.7 1718.7 987.7C1719.2 987.7 1719.8 987.7 1720.3 987.7C1724.5 987.7 1728.7 978.8 1732.8 978.8C1733.4 978.8 1733.9 978.8 1734.5 978.8C1738.0 978.8 1741.5 987.5 1745.0 990.6C1748.2 993.4 1751.3 997.5 1754.5 997.5C1759.2 997.5 1763.9 997.5 1768.6 997.5C1772.6 997.5 1776.5 989.8 1780.4 984.7C1786.9 976.5 1793.3 953.6 1799.7 953.6C1800.2 953.6 1800.8 953.6 1801.4 953.6C1804.6 953.6 1807.9 963.6 1811.1 969.0C1814.0 973.7 1816.9 983.7 1819.8 983.7C1820.3 983.7 1820.9 983.7 1821.4 983.7C1826.5 983.7 1831.6 970.6 1836.6 970.6C1837.8 970.6 1838.9 970.6 1840.0 970.6C1844.6 970.6 1849.1 982.2 1853.7 986.7C1857.6 990.5 1861.5 996.5 1865.3 996.5C1865.9 996.5 1866.5 996.5 1867.0 996.5C1873.6 996.5 1880.1 978.8 1886.6 978.8C1887.2 978.8 1887.7 978.8 1888.3 978.8C1892.5 978.8 1896.7 990.4 1900.9 996.5C1904.6 1001.9 1908.2 1013.3 1911.9 1013.3C1912.4 1013.3 1913.0 1013.3 1913.6 1013.3C1916.4 1013.3 1919.3 999.4 1922.2 994.6C1925.3 989.3 1928.4 981.8 1931.5 981.8C1932.1 981.8 1932.6 981.8 1933.2 981.8C1936.6 981.8 1940.0 991.3 1943.4 993.6C1946.2 995.4 1948.9 997.5 1951.7 997.5C1960.0 997.5 1968.2 997.5 1976.5 997.5C1979.7 997.5 1982.8 1001.8 1986.0 1004.4C1992.7 1010.0 1999.5 1024.5 2006.2 1024.5C2006.8 1024.5 2007.3 1024.5 2007.9 1024.5C2012.9 1024.5 2018.0 1010.5 2023.0 1010.5C2023.6 1010.5 2024.2 1010.5 2024.7 1010.5C2027.4 1010.5 2030.1 1019.9 2032.7 1024.5C2036.1 1030.5 2039.5 1042.3 2042.9 1042.3C2043.5 1042.3 2044.0 1042.3 2044.6 1042.3C2047.7 1042.3 2050.9 1035.6 2054.1 1035.6C2054.6 1035.6 2055.2 1035.6 2055.7 1035.6C2060.0 1035.6 2064.3 1045.2 2068.6 1045.2C2069.1 1045.2 2069.7 1045.2 2070.3 1045.2C2073.7 1045.2 2077.1 1036.8 2080.6 1033.4C2082.9 1031.2 2085.1 1027.5 2087.4 1027.5C2088.5 1027.5 2089.6 1027.5 2090.8 1027.5C2096.2 1027.5 2101.7 1042.3 2107.2 1042.3C2107.8 1042.3 2108.3 1042.3 2108.9 1042.3C2111.9 1042.3 2114.8 1032.5 2117.8 1027.5C2120.0 1023.8 2122.2 1016.4 2124.4 1016.4C2124.9 1016.4 2125.5 1016.4 2126.1 1016.4C2128.0 1016.4 2130.0 1024.0 2132.0 1027.5C2134.9 1032.8 2137.9 1042.3 2140.9 1042.3C2141.4 1042.3 2142.0 1042.3 2142.5 1042.3C2145.8 1042.3 2149.1 1035.6 2152.4 1035.6C2152.9 1035.6 2153.5 1035.6 2154.1 1035.6C2158.2 1035.6 2162.4 1045.2 2166.6 1045.2C2167.1 1045.2 2167.7 1045.2 2168.2 1045.2C2171.5 1045.2 2174.8 1036.4 2178.0 1033.4C2181.0 1030.7 2183.9 1027.0 2186.9 1026.8C2191.6 1026.5 2196.3 1026.6 2201.1 1026.3C2204.6 1026.1 2208.1 1021.9 2211.7 1018.6C2215.0 1015.6 2218.2 1006.5 2221.5 1006.5C2222.6 1006.5 2223.8 1006.5 2224.9 1006.5C2228.8 1006.5 2232.7 1017.2 2236.5 1017.2C2237.1 1017.2 2237.7 1017.2 2238.2 1017.2C2241.9 1017.2 2245.6 1006.5 2249.3 1006.5C2250.5 1006.5 2251.6 1006.5 2252.7 1006.5C2256.7 1006.5 2260.8 1020.0 2264.8 1023.1C2269.0 1026.3 2273.1 1026.8 2277.2 1029.7C2281.4 1032.6 2285.5 1042.3 2289.7 1042.3C2290.2 1042.3 2290.8 1042.3 2291.4 1042.3C2294.3 1042.3 2297.3 1032.5 2300.3 1027.5C2302.5 1023.8 2304.7 1016.4 2306.9 1016.4C2307.4 1016.4 2308.0 1016.4 2308.6 1016.4C2311.1 1016.4 2313.7 1030.5 2316.2 1036.4C2318.6 1041.8 2320.9 1049.6 2323.3 1051.1C2326.5 1053.3 2329.8 1053.6 2333.0 1054.8" stroke="#00ab62" stroke-width="6"/>
</g></g>
<g shape-rendering="crispEdges">
<g fill="#4e4e4e"><rect x="223" y="125" width="167" height="6"/><rect x="221" y="126" width="171" height="4"/></g>
<g fill="#fd3c3c"><rect x="223" y="217" width="167" height="5"/><rect x="221" y="218" width="171" height="3"/></g>
<g fill="#0068dd"><rect x="223" y="308" width="167" height="6"/><rect x="221" y="309" width="171" height="4"/></g>
<g fill="#00ab62"><rect x="223" y="399" width="167" height="6"/><rect x="221" y="400" width="171" height="4"/></g>
</g>
<text class="lb" transform="translate(408.0 153.0) scale(1 1.03)">291.15 K</text>
<text class="lb" transform="translate(408.0 244.1) scale(1 1.03)">289.15 K</text>
<text class="lb" transform="translate(408.0 335.2) scale(1 1.03)">287.15 K</text>
<text class="lb" transform="translate(408.0 426.3) scale(1 1.03)">285.15 K</text>
<g shape-rendering="crispEdges">
<line x1="872.5" y1="1317.5" x2="442.7" y2="945.3" stroke="#000" stroke-width="5.20"/><polygon points="410.2,917.1 452.3,938.7 437.6,955.7" fill="#000"/>
<line x1="872.5" y1="1317.5" x2="306.8" y2="1444.2" stroke="#000" stroke-width="5.40"/><polygon points="264.8,1453.6 307.2,1432.3 312.2,1454.8" fill="#000"/>
<rect x="345" y="1315" width="245" height="6" fill="#000"/>
<rect x="590" y="1315" width="283" height="5" fill="#000"/>
<polygon points="299.5,1318 347,1306.5 347,1329.5" fill="#000"/>
</g>
<text class="tk" transform="translate(173.6 1560.4) scale(1 1.015)" text-anchor="middle">0</text>
<text class="tk" transform="translate(468.8 1560.4) scale(1 1.015)" text-anchor="middle">1000</text>
<text class="tk" transform="translate(763.9 1560.4) scale(1 1.015)" text-anchor="middle">2000</text>
<text class="tk" transform="translate(1059.1 1560.4) scale(1 1.015)" text-anchor="middle">3000</text>
<text class="tk" transform="translate(1354.3 1560.4) scale(1 1.015)" text-anchor="middle">4000</text>
<text class="tk" transform="translate(1649.4 1560.4) scale(1 1.015)" text-anchor="middle">5000</text>
<text class="tk" transform="translate(1944.6 1560.4) scale(1 1.015)" text-anchor="middle">6000</text>
<text class="tk" transform="translate(142.9 1501.1) scale(1 1.015)" text-anchor="end">0</text>
<text class="tk" transform="translate(142.9 1215.7) scale(1 1.015)" text-anchor="end">1</text>
<text class="tk" transform="translate(142.9 930.3) scale(1 1.015)" text-anchor="end">2</text>
<text class="tk" transform="translate(142.9 644.9) scale(1 1.015)" text-anchor="end">3</text>
<text class="tk" transform="translate(142.9 359.5) scale(1 1.015)" text-anchor="end">4</text>
<text class="tk" transform="translate(142.9 74.1) scale(1 1.015)" text-anchor="end">5</text>
<text class="lb" transform="translate(990.4 1692.8)" letter-spacing="0.5">t (s)</text>
<text class="lb" transform="translate(78.1 874.3) rotate(-90) scale(1 1.025)"><tspan class="sy" x="-1.4">Δ</tspan><tspan x="45.6">T </tspan><tspan x="111.1">(</tspan><tspan x="136.7">K</tspan><tspan x="189.9">)</tspan></text>
<text class="lb" transform="translate(192.2 902.0)" letter-spacing="0.5">t (s)</text>
<text class="lb" transform="translate(723.4 1162.8) scale(1 1.03)">792s</text>
<text class="lb" transform="translate(507.2 1293.0) scale(1 1.03)">401s</text>
<text class="lb" transform="translate(601.3 1432.0) scale(1 1.03)">330s</text>
<text class="lb" transform="translate(877.8 1345.0) scale(1 1.01)">Hydrate Formation Points</text>
</svg></body></html>
